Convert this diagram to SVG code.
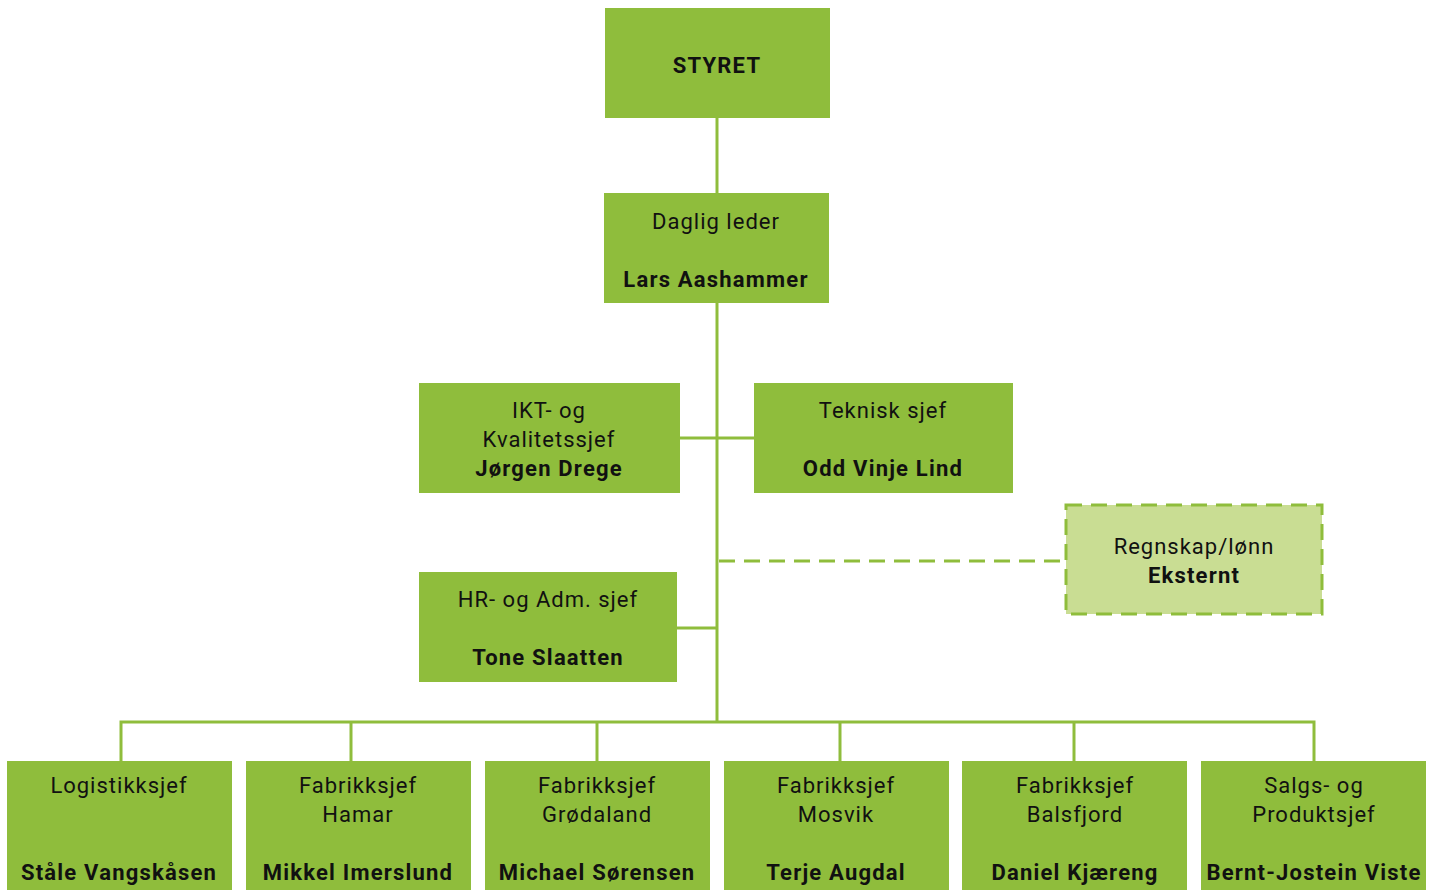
<svg xmlns="http://www.w3.org/2000/svg" width="1438" height="890" viewBox="0 0 1438 890">
<style>
.box{fill:#8fbd3c}
.ext{fill:#c9dd93;stroke:#8fbd3c;stroke-width:3;stroke-dasharray:16 9}
.ln{stroke:#8fbd3c;stroke-width:3;fill:none}
.dash{stroke:#8fbd3c;stroke-width:3;fill:none;stroke-dasharray:16 9}
text{font-family:Roboto,"Liberation Sans",sans-serif;font-size:22px;fill:#111;text-anchor:middle;letter-spacing:1px}
.b{font-weight:bold;letter-spacing:1.2px}
</style>
<g id="connectors">
<line class="ln" x1="717" y1="118" x2="717" y2="193"/>
<line class="ln" x1="717" y1="303" x2="717" y2="722"/>
<line class="ln" x1="680" y1="438" x2="754" y2="438"/>
<line class="ln" x1="677" y1="628" x2="717" y2="628"/>
<line class="dash" x1="719" y1="561" x2="1065" y2="561"/>
<polyline class="ln" points="121,761 121,722 1314,722 1314,761"/>
<line class="ln" x1="351" y1="722" x2="351" y2="761"/>
<line class="ln" x1="597" y1="722" x2="597" y2="761"/>
<line class="ln" x1="840" y1="722" x2="840" y2="761"/>
<line class="ln" x1="1074" y1="722" x2="1074" y2="761"/>
</g>
<g id="styret"><rect class="box" x="605" y="8" width="225" height="110"/><text class="b" x="717" y="73">STYRET</text></g>
<g id="daglig"><rect class="box" x="604" y="193" width="225" height="110"/><text x="716" y="229">Daglig leder</text><text class="b" x="716" y="287">Lars Aashammer</text></g>
<g id="ikt"><rect class="box" x="419" y="383" width="261" height="110"/><text x="549" y="418">IKT- og</text><text x="549" y="447">Kvalitetssjef</text><text class="b" x="549" y="476">Jørgen Drege</text></g>
<g id="teknisk"><rect class="box" x="754" y="383" width="259" height="110"/><text x="883" y="418">Teknisk sjef</text><text class="b" x="883" y="476">Odd Vinje Lind</text></g>
<g id="regnskap"><rect class="ext" x="1066" y="505" width="256" height="109"/><text x="1194" y="554">Regnskap/lønn</text><text class="b" x="1194" y="583">Eksternt</text></g>
<g id="hr"><rect class="box" x="419" y="572" width="258" height="110"/><text x="548" y="607">HR- og Adm. sjef</text><text class="b" x="548" y="665">Tone Slaatten</text></g>
<g id="logistikk"><rect class="box" x="7" y="761" width="225" height="129"/><text x="119" y="793">Logistikksjef</text><text class="b" x="119" y="880">Ståle Vangskåsen</text></g>
<g id="hamar"><rect class="box" x="246" y="761" width="225" height="129"/><text x="358" y="793">Fabrikksjef</text><text x="358" y="822">Hamar</text><text class="b" x="358" y="880">Mikkel Imerslund</text></g>
<g id="grodaland"><rect class="box" x="485" y="761" width="225" height="129"/><text x="597" y="793">Fabrikksjef</text><text x="597" y="822">Grødaland</text><text class="b" x="597" y="880">Michael Sørensen</text></g>
<g id="mosvik"><rect class="box" x="724" y="761" width="225" height="129"/><text x="836" y="793">Fabrikksjef</text><text x="836" y="822">Mosvik</text><text class="b" x="836" y="880">Terje Augdal</text></g>
<g id="balsfjord"><rect class="box" x="962" y="761" width="225" height="129"/><text x="1075" y="793">Fabrikksjef</text><text x="1075" y="822">Balsfjord</text><text class="b" x="1075" y="880">Daniel Kjæreng</text></g>
<g id="salg"><rect class="box" x="1201" y="761" width="225" height="129"/><text x="1314" y="793">Salgs- og</text><text x="1314" y="822">Produktsjef</text><text class="b" x="1314" y="880">Bernt-Jostein Viste</text></g>
</svg>
